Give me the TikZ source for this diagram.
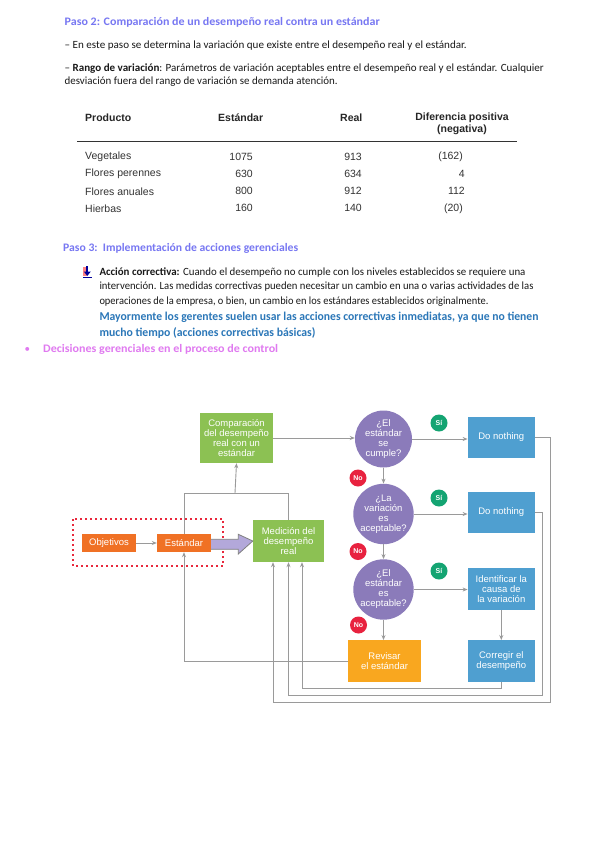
\documentclass[tikz,border=0pt]{standalone}
\usepackage{fontspec}
\usepackage{graphicx}
\setmainfont{Carlito}
\newfontfamily\arialf{Liberation Sans}
\usetikzlibrary{arrows.meta}
\definecolor{headblue}{HTML}{7777F2}
\definecolor{mayblue}{HTML}{2B77B8}
\definecolor{decis}{HTML}{E07AF0}
\definecolor{cgreen}{HTML}{8CC153}
\definecolor{corange}{HTML}{F07125}
\definecolor{cpurple}{HTML}{8B7BBA}
\definecolor{cblue}{HTML}{4F9FD0}
\definecolor{cyellow}{HTML}{F9A71F}
\definecolor{csi}{HTML}{14A472}
\definecolor{cno}{HTML}{E8223F}
\definecolor{cline}{HTML}{9A9A9A}
\definecolor{bigarrow}{HTML}{B3A8DA}
\definecolor{dotred}{HTML}{E8283C}
\definecolor{tabtext}{HTML}{333333}
\newcommand\bodyf{\fontsize{11}{13.3}\selectfont}
\newcommand\diagf{\arialf\fontsize{9.5}{10}\selectfont}
\newcommand\fitw[2]{\resizebox{#1}{\height}{#2}}
\begin{document}
\begin{tikzpicture}[x=1pt,y=-1pt,
  txt/.style={anchor=west,inner sep=0pt,font=\bodyf,text=black!90},
  hd/.style={txt,font=\fontsize{11.5}{13.3}\selectfont\bfseries,text=headblue},
  tabh/.style={inner sep=0pt,font=\arialf\bfseries\fontsize{10.5}{12}\selectfont,text=black!85},
  tabc/.style={inner sep=0pt,font=\arialf\fontsize{10.5}{12}\selectfont,text=tabtext},
  rbox/.style={inner sep=0pt,align=center,text=white,font=\diagf},
  circ/.style={circle,fill=cpurple,inner sep=0pt,minimum size=57pt,align=center,text=white,font=\diagf},
  badge/.style={circle,inner sep=0pt,minimum size=17pt,text=white,font=\arialf\bfseries\fontsize{7}{7}\selectfont},
  conn/.style={draw=cline,line width=0.9pt},
  arr/.style={conn,-{Stealth[length=5pt,width=4pt]}}]
\useasboundingbox[fill=white] (0,0) rectangle (599,848);

% ---- Paso 2 text ----
\node[hd] (p2) at (64.5,22.7) {\fitw{315pt}{Paso 2: Comparación de un desempeño real contra un estándar}};
\node[txt] (l1) at (64.5,45.5) {\fitw{402pt}{– En este paso se determina la variación que existe entre el desempeño real y el estándar.}};
\node[txt] (l2) at (64.5,68.3) {\fitw{479pt}{– \textbf{Rango de variación}: Parámetros de variación aceptables entre el desempeño real y el estándar. Cualquier}};
\node[txt] (l3) at (64.5,81.7) {\fitw{273pt}{desviación fuera del rango de variación se demanda atención.}};

% ---- table ----
\node[tabh,anchor=west] (th1) at (85,117.7) {Producto};
\node[tabh,anchor=west] (th2) at (218,117.7) {Estándar};
\node[tabh,anchor=west] (th3) at (340,117.7) {Real};
\node[tabh] (th4) at (462,117.7) {Diferencia positiva};
\node[tabh] (th5) at (462,130) {(negativa)};
\draw[line width=1pt,black!80] (77,141) -- (517,141);
\foreach \y/\a/\b/\c/\d/\dx in {156.7/Vegetales/1075/913/(162)/463,173.7/Flores perennes/630/634/4/465,191.3/Flores anuales/800/912/112/465,208.3/Hierbas/160/140/(20)/463}{
  \node[tabc,anchor=west] at (85,\y) {\a};
  \node[tabc,anchor=east] at (253,\y) {\b};
  \node[tabc,anchor=east] at (362,\y) {\c};
  \node[tabc,anchor=east] at (\dx,\y) {\d};
}

% ---- Paso 3 text ----
\node[hd] (p3) at (63,248.3) {\fitw{235pt}{Paso 3:\ \ Implementación de acciones gerenciales}};
% bullet icon
\fill[red!70,opacity=0.7] (83,267) rectangle (86.5,276);
\fill[blue!60!black] (86.3,265.5) rectangle (88.3,272);
\fill[blue!60!black] (83.8,271.5) -- (90.8,271.5) -- (87.3,276) -- cycle;
\fill[blue!60!black] (83,277) rectangle (91.5,278.2);
\node[txt] (ac1) at (99.3,272.7) {\fitw{426pt}{\textbf{Acción correctiva:} Cuando el desempeño no cumple con los niveles establecidos se requiere una}};
\node[txt] (ac2) at (99.3,287) {\fitw{434pt}{intervención. Las medidas correctivas pueden necesitar un cambio en una o varias actividades de las}};
\node[txt] (ac3) at (99.3,301.7) {\fitw{389pt}{operaciones de la empresa, o bien, un cambio en los estándares establecidos originalmente.}};
\node[txt,font=\fontsize{12}{14}\selectfont\bfseries,text=mayblue] (my1) at (99.3,317.7) {\fitw{439pt}{Mayormente los gerentes suelen usar las acciones correctivas inmediatas, ya que no tienen}};
\node[txt,font=\fontsize{12}{14}\selectfont\bfseries,text=mayblue] (my2) at (99.3,333) {\fitw{216pt}{mucho tiempo (acciones correctivas básicas)}};
\node[txt,font=\bodyf,text=decis] (bul) at (24.5,350) {•};
\node[txt,font=\fontsize{11.5}{13.3}\selectfont\bfseries,text=decis] (dec) at (43,349.5) {\fitw{235pt}{Decisiones gerenciales en el proceso de control}};

% ---- diagram ----
\draw[dotred,line width=2pt,dash pattern=on 2pt off 3pt] (73,519) rectangle (223,566);
\node[rbox,fill=cgreen,minimum width=73pt,minimum height=50pt] (cmp) at (236.5,438) {Comparación\\del desempeño\\real con un\\estándar};
\node[rbox,fill=corange,minimum width=54pt,minimum height=18pt] (obj) at (109,543) {Objetivos};
\node[rbox,fill=corange,minimum width=54pt,minimum height=18pt] (est) at (184,543) {Estándar};
\node[rbox,fill=cgreen,minimum width=71pt,minimum height=42pt] (med) at (288.5,541) {Medición del\\desempeño\\real};
\node[circ] (c1) at (383.5,439) {¿El\\estándar\\se\\cumple?};
\node[circ] (c2) at (383.5,514) {¿La\\variación\\es\\aceptable?};
\node[circ] (c3) at (383.5,589.5) {¿El\\estándar\\es\\aceptable?};
\node[rbox,fill=cblue,minimum width=67pt,minimum height=41.5pt] (dn1) at (501.3,437.5) {Do nothing};
\node[rbox,fill=cblue,minimum width=67pt,minimum height=41.5pt] (dn2) at (501.3,512.5) {Do nothing};
\node[rbox,fill=cblue,minimum width=67pt,minimum height=41.5pt] (idf) at (501.3,589) {Identificar la\\causa de\\la variación};
\node[rbox,fill=cblue,minimum width=67pt,minimum height=41.5pt] (cor) at (501.3,661) {Corregir el\\desempeño};
\node[rbox,fill=cyellow,minimum width=72.5pt,minimum height=41.5pt] (rev) at (384.5,661) {Revisar\\el estándar};

\node[badge,fill=csi] (si1) at (439,423) {Sí};
\node[badge,fill=csi] (si2) at (439,498) {Sí};
\node[badge,fill=csi] (si3) at (439,571) {Sí};
\node[badge,fill=cno] (no1) at (358,478) {No};
\node[badge,fill=cno] (no2) at (358,551.5) {No};
\node[badge,fill=cno] (no3) at (358.5,625) {No};

% big arrow
\draw[fill=bigarrow,draw=black!50,line width=0.8pt] (est.east |- 0,539.3) -- (238.3,539.3) -- (238.3,534.3) -- (med.west) -- (238.3,554) -- (238.3,549.3) -- (est.east |- 0,549.3);

% connectors
\draw[arr] (obj.east) -- (est.west);
\coordinate (jt) at (235,493);
\draw[conn] (est.north) -- (est.north |- jt) -| (med.north);
\draw[arr] (jt) -- (cmp.south);
\draw[arr] (cmp.east) -- (c1.west |- cmp.east);
\draw[arr] (c1.east) -- (dn1.west |- c1.east);
\draw[arr] (c2.east) -- (dn2.west |- c2.east);
\draw[arr] (c3.east) -- (idf.west |- c3.east);
\draw[arr] (c1.south) -- (c2.north);
\draw[arr] (c2.south) -- (c3.north);
\draw[arr] (c3.south) -- (c3.south |- rev.north);
\draw[arr] (idf.south) -- (cor.north);
\coordinate (e1) at (550,702);
\coordinate (b1) at (273,702);
\coordinate (e2) at (542,695);
\coordinate (b2) at (288.5,695);
\coordinate (b3) at (302,688);
\coordinate (b4) at (184,661);
\draw[arr] (dn1.east) -| (e1) -- (b1) -- (b1 |- med.south);
\draw[arr] (dn2.east) -| (e2) -- (b2) -- (med.south);
\draw[arr] (cor.south) |- (b3) -- (b3 |- med.south);
\draw[arr] (rev.west) -- (b4) -- (est.south);
\end{tikzpicture}
\end{document}
